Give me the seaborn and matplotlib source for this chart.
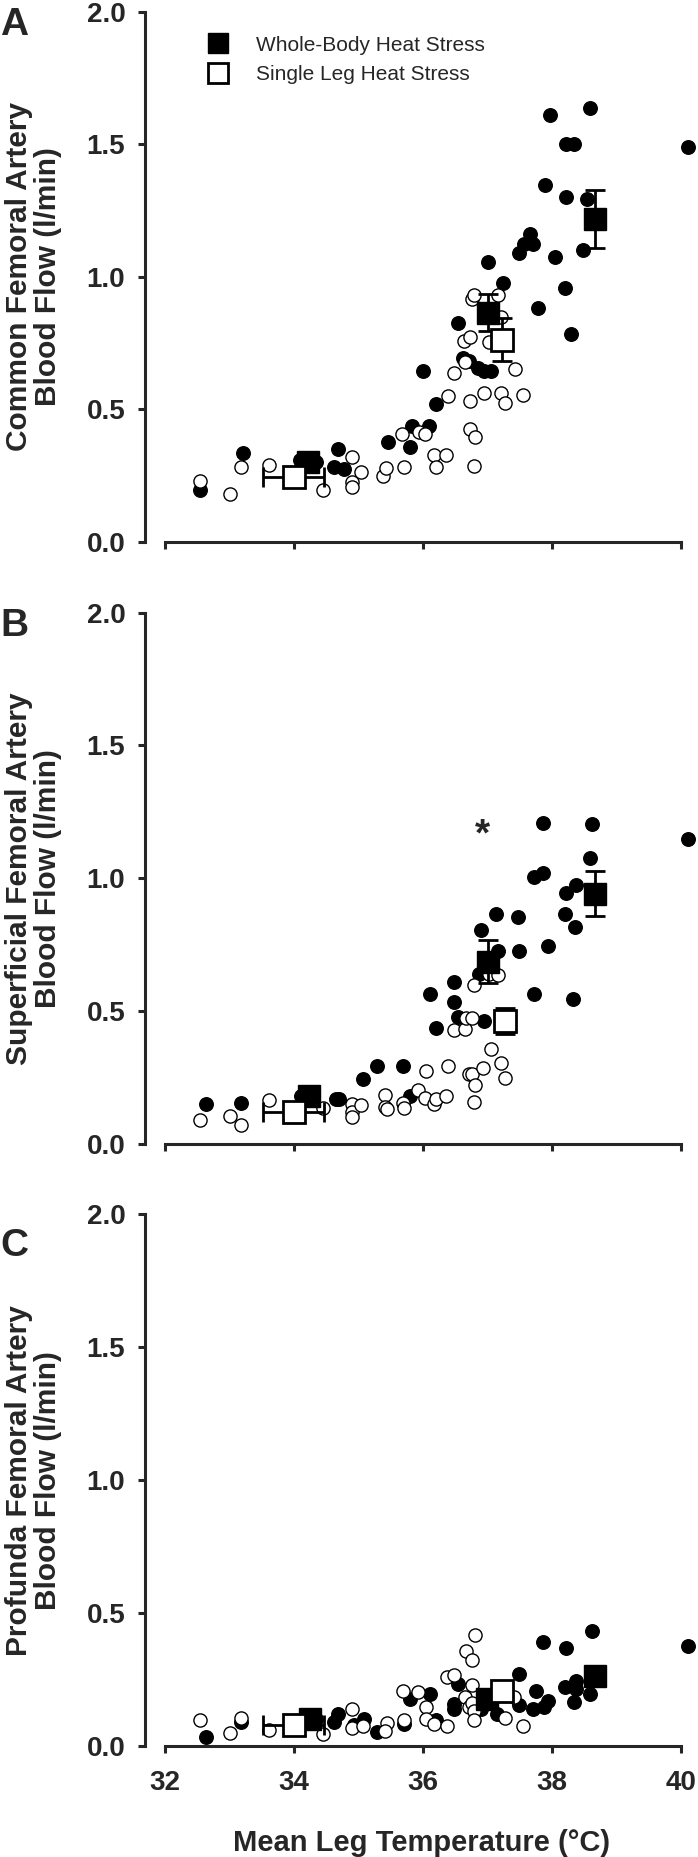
import pandas as pd
import matplotlib
matplotlib.use("Agg")
import matplotlib.pyplot as plt
import seaborn as sns
from matplotlib.lines import Line2D

# estilo limpio tipo SigmaPlot
sns.set_theme(style="ticks")
plt.rcParams['font.family'] = ['Liberation Sans', 'DejaVu Sans']

# ---------------- datos panel A (common femoral) ----------------
a_whole_x = [32.55, 33.21, 34.10, 34.18, 34.28, 34.35, 34.69, 34.62, 34.78, 35.47, 35.81, 35.83,
             36.10, 36.01, 36.21, 36.55, 36.62, 36.72, 36.86, 36.95, 37.06, 37.02, 37.24, 37.50,
             37.57, 37.66, 37.71, 37.79, 37.90, 37.98, 38.06, 38.21, 38.22, 38.34, 38.22, 38.30,
             38.48, 38.55, 38.59, 40.12]
a_whole_y = [0.198, 0.335, 0.31, 0.31, 0.31, 0.30, 0.35, 0.283, 0.276, 0.377, 0.358, 0.437,
             0.437, 0.645, 0.52, 0.824, 0.693, 0.683, 0.656, 0.645, 0.645, 1.054, 0.976, 1.088,
             1.125, 1.163, 1.125, 0.884, 1.346, 1.61, 1.073, 0.957, 1.50, 1.50, 1.30, 0.785,
             1.10, 1.292, 1.635, 1.49]
a_single_x = [32.55, 33.01, 33.19, 33.61, 34.45, 34.90, 34.90, 34.90, 35.05, 35.38, 35.43, 35.71,
              35.68, 35.94, 36.03, 36.17, 36.21, 36.37, 36.40, 36.48, 36.66, 36.64, 36.74, 36.74,
              36.74, 36.81, 36.79, 36.76, 36.79, 37.17, 36.95, 37.02, 37.03, 37.21, 37.21, 37.28,
              37.43, 37.55]
a_single_y = [0.231, 0.182, 0.283, 0.29, 0.198, 0.32, 0.226, 0.209, 0.264, 0.249, 0.279, 0.283,
              0.407, 0.414, 0.407, 0.328, 0.283, 0.328, 0.551, 0.636, 0.678, 0.757, 0.772, 0.532,
              0.425, 0.395, 0.286, 0.917, 0.931, 0.931, 0.562, 0.85, 0.756, 0.85, 0.562, 0.525,
              0.651, 0.556]
a_whole_mean_x = [34.23, 37.02, 38.68]
a_whole_mean_y = [0.30, 0.864, 1.218]
a_whole_sem = [0.02, 0.07, 0.11]
a_single_mean_x = [34.00, 37.23]
a_single_mean_y = [0.246, 0.763]
a_single_sem = [0.02, 0.08]
a_single_sem_x = [0.47, 0.0]

# ---------------- datos panel B (superficial femoral) ----------------
b_whole_x = [32.64, 33.19, 34.12, 34.20, 34.30, 34.66, 34.70, 35.07, 35.30, 35.69, 35.81, 36.12,
             36.21, 36.48, 36.48, 36.55, 36.90, 36.88, 36.95, 37.14, 37.17, 37.48, 37.50, 37.72,
             37.72, 37.86, 37.86, 37.94, 38.21, 38.22, 38.38, 38.36, 38.33, 38.59, 38.62, 40.12]
b_whole_y = [0.15, 0.155, 0.18, 0.18, 0.18, 0.17, 0.17, 0.244, 0.292, 0.292, 0.18, 0.564,
             0.4375, 0.609, 0.534, 0.478, 0.805, 0.641, 0.463, 0.865, 0.728, 0.853, 0.728, 0.564,
             1.006, 1.021, 1.207, 0.746, 0.865, 0.946, 0.976, 0.817, 0.545, 1.077, 1.204, 1.147]
b_single_x = [32.55, 33.01, 33.19, 33.62, 34.45, 34.90, 34.90, 34.90, 35.05, 35.41, 35.41, 35.45,
              35.69, 35.71, 35.93, 36.05, 36.03, 36.17, 36.21, 36.37, 36.40, 36.48, 36.66, 36.67,
              36.76, 36.79, 36.72, 36.76, 36.81, 36.79, 36.93, 37.06, 37.03, 37.17, 37.21, 37.28]
b_single_y = [0.091, 0.106, 0.073, 0.165, 0.135, 0.15, 0.12, 0.101, 0.146, 0.183, 0.138, 0.132,
              0.155, 0.135, 0.202, 0.274, 0.173, 0.15, 0.17, 0.18, 0.295, 0.429, 0.433, 0.473,
              0.473, 0.597, 0.262, 0.265, 0.22, 0.158, 0.284, 0.356, 0.641, 0.637, 0.304, 0.25]
b_whole_mean_x = [34.24, 37.02, 38.68]
b_whole_mean_y = [0.18, 0.686, 0.942]
b_whole_sem = [0.02, 0.08, 0.085]
b_single_mean_x = [34.00, 37.28]
b_single_mean_y = [0.12, 0.463]
b_single_sem = [0.02, 0.05]
b_single_sem_x = [0.47, 0.0]
b_asterisco = (36.93, 1.16)

# ---------------- datos panel C (profunda femoral) ----------------
c_whole_x = [32.64, 33.19, 34.15, 34.25, 34.35, 34.62, 34.68, 34.93, 35.09, 35.30, 35.71, 35.81,
             36.12, 36.21, 36.48, 36.48, 36.55, 36.90, 36.93, 37.16, 37.50, 37.50, 37.71, 37.76,
             37.88, 37.94, 37.86, 38.21, 38.22, 38.34, 38.38, 38.38, 38.59, 38.63, 40.12]
c_whole_y = [0.035, 0.089, 0.102, 0.102, 0.102, 0.089, 0.122, 0.08, 0.102, 0.054, 0.084, 0.176,
             0.194, 0.099, 0.138, 0.157, 0.234, 0.138, 0.168, 0.122, 0.271, 0.153, 0.138, 0.206,
             0.148, 0.171, 0.39, 0.222, 0.367, 0.164, 0.245, 0.214, 0.194, 0.431, 0.378]
c_single_x = [32.55, 33.01, 33.19, 33.62, 34.45, 34.90, 34.90, 35.07, 35.45, 35.41, 35.69, 35.71,
              35.93, 36.05, 36.05, 36.17, 36.38, 36.48, 36.38, 36.68, 36.77, 36.81, 36.66, 36.72,
              36.76, 36.76, 36.79, 36.79, 37.28, 37.41, 37.55]
c_single_y = [0.096, 0.05, 0.107, 0.061, 0.046, 0.138, 0.069, 0.076, 0.087, 0.058, 0.206, 0.099,
              0.203, 0.145, 0.102, 0.084, 0.26, 0.268, 0.076, 0.359, 0.324, 0.417, 0.183, 0.145,
              0.229, 0.161, 0.13, 0.096, 0.104, 0.183, 0.076]
c_whole_mean_x = [34.26, 37.00, 38.68]
c_whole_mean_y = [0.102, 0.176, 0.263]
c_whole_sem = [0.01, 0.02, 0.03]
c_single_mean_x = [34.00, 37.23]
c_single_mean_y = [0.08, 0.206]
c_single_sem = [0.01, 0.02]
c_single_sem_x = [0.47, 0.0]

y_labels = ['Common Femoral Artery\nBlood Flow (l/min)',
            'Superficial Femoral Artery\nBlood Flow (l/min)',
            'Profunda Femoral Artery\nBlood Flow (l/min)']
letras = ['A', 'B', 'C']
x_ticks = [32, 34, 36, 38, 40]
y_ticks = [0.0, 0.5, 1.0, 1.5, 2.0]

paneles = [
    (a_whole_x, a_whole_y, a_single_x, a_single_y, a_whole_mean_x, a_whole_mean_y, a_whole_sem,
     a_single_mean_x, a_single_mean_y, a_single_sem, a_single_sem_x),
    (b_whole_x, b_whole_y, b_single_x, b_single_y, b_whole_mean_x, b_whole_mean_y, b_whole_sem,
     b_single_mean_x, b_single_mean_y, b_single_sem, b_single_sem_x),
    (c_whole_x, c_whole_y, c_single_x, c_single_y, c_whole_mean_x, c_whole_mean_y, c_whole_sem,
     c_single_mean_x, c_single_mean_y, c_single_sem, c_single_sem_x),
]

fig = plt.figure(figsize=(6.98, 18.57), dpi=100)
# posiciones de los ejes (fracciones de figura)
cajas = [[0.2073, 0.7081, 0.7927, 0.2857],
         [0.2073, 0.3840, 0.7927, 0.2861],
         [0.2073, 0.0598, 0.7927, 0.2765 + 0.0097]]
letra_y = [0.9812, 0.6575, 0.3236]  # linea base de las letras A, B, C

lw = 2.2
for i, (wx, wy, sx, sy, wmx, wmy, wse, smx, smy, sse, ssex) in enumerate(paneles):
    ax = fig.add_axes(cajas[i])
    df_w = pd.DataFrame({'temp': wx, 'flow': wy})
    df_s = pd.DataFrame({'temp': sx, 'flow': sy})

    sns.scatterplot(data=df_w, x='temp', y='flow', color='black', edgecolor='black',
                    s=95, linewidth=1, ax=ax, zorder=3)
    sns.scatterplot(data=df_s, x='temp', y='flow', color='white', edgecolor='black',
                    s=90, linewidth=1, ax=ax, zorder=4)

    ax.errorbar(wmx, wmy, yerr=wse, fmt='s', color='black', mfc='black', mec='black',
                ms=16, elinewidth=2, capsize=7, capthick=2, zorder=5)
    ax.errorbar(smx, smy, yerr=sse, xerr=ssex, fmt='s', color='black', mfc='white',
                mec='black', mew=2, ms=16, elinewidth=2, capsize=7, capthick=2, zorder=5)

    ax.set_xlim(31.69, 40.27)
    ax.set_ylim(0, 2.0)
    ax.spines['bottom'].set_bounds(32, 40)
    ax.spines['left'].set_bounds(0, 2.0)
    for lado in ['top', 'right']:
        ax.spines[lado].set_visible(False)
    for lado in ['bottom', 'left']:
        ax.spines[lado].set_linewidth(lw)
    ax.set_xticks(x_ticks)
    ax.set_yticks(y_ticks)
    ax.set_yticklabels([f'{v:.1f}' for v in y_ticks])
    ax.tick_params(axis='both', width=lw, length=5, labelsize=20, direction='out')
    ax.tick_params(axis='y', pad=9)
    ax.tick_params(axis='x', pad=12)
    for t in ax.get_yticklabels() + ax.get_xticklabels():
        t.set_fontweight('bold')
    if i < 2:
        ax.set_xticklabels([])
        ax.set_xlabel('')
    else:
        ax.set_xlabel('Mean Leg Temperature (°C)', fontsize=21, fontweight='bold', labelpad=24)
    ax.set_ylabel(y_labels[i], fontsize=21.5, fontweight='bold', linespacing=1.05)
    ax.yaxis.set_label_coords(-0.15, 0.5)
    ax.grid(False)

    fig.text(0.0, letra_y[i], letras[i], fontsize=28, fontweight='bold', ha='left', va='baseline')

    if i == 0:
        manejadores = [
            Line2D([], [], marker='s', ls='', mfc='black', mec='black', ms=15),
            Line2D([], [], marker='s', ls='', mfc='white', mec='black', mew=2, ms=15),
        ]
        ax.legend(manejadores, ['Whole-Body Heat Stress', 'Single Leg Heat Stress'],
                  loc='upper left', bbox_to_anchor=(0.08, 0.97), frameon=False,
                  fontsize=15, handletextpad=0.8, labelspacing=0.5, borderaxespad=0)
    if i == 1:
        ax.text(b_asterisco[0], b_asterisco[1], '*', fontsize=28, fontweight='bold',
                ha='center', va='center')

plt.savefig('out.png', dpi=100)
